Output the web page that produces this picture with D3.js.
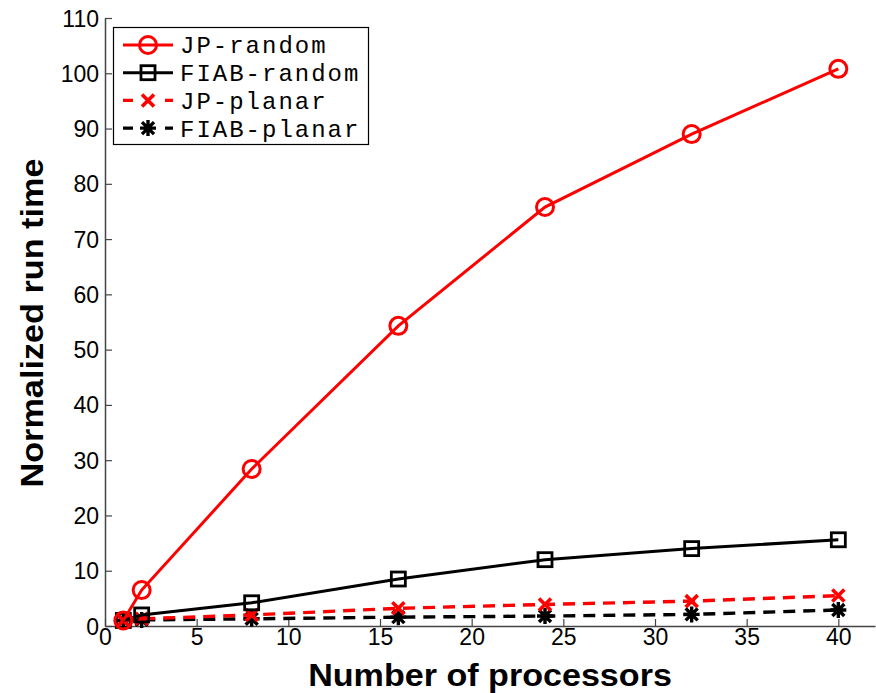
<!DOCTYPE html>
<html>
<head>
<meta charset="utf-8">
<script src="https://cdn.jsdelivr.net/npm/d3@7"></script>
<style>
  body { margin: 0; background: #fff; }
  svg { display: block; }
</style>
</head>
<body>
<svg id="chart" width="876" height="693"></svg>
<script>
'use strict';

var processors = [1, 2, 8, 16, 24, 32, 40];
var jpRandom = [1, 6.5, 28.4, 54.3, 75.8, 89.0, 100.8];
var fiabRandom = [1, 2.0, 4.2, 8.5, 12.0, 14.0, 15.6];
var jpPlanar = [1, 1.3, 2.0, 3.2, 3.9, 4.5, 5.5];
var fiabPlanar = [1, 1.1, 1.3, 1.6, 1.8, 2.1, 2.9];
var xTicks = [0, 5, 10, 15, 20, 25, 30, 35, 40];
var yTicks = [0, 10, 20, 30, 40, 50, 60, 70, 80, 90, 100, 110];

var series = [
  { name: 'JP-random', values: jpRandom, color: '#ff0000', dash: null, marker: 'circle' },
  { name: 'FIAB-random', values: fiabRandom, color: '#000000', dash: null, marker: 'square' },
  { name: 'JP-planar', values: jpPlanar, color: '#ff0000', dash: '12,8', marker: 'cross' },
  { name: 'FIAB-planar', values: fiabPlanar, color: '#000000', dash: '12,8', marker: 'star' }
];

var svg = d3.select('#chart');
var plotLeft = 105, plotRight = 875, plotTop = 18, plotBottom = 626;
var sans = 'Liberation Sans, Arial, Helvetica, sans-serif';

var x = d3.scaleLinear().domain([0, 42]).range([plotLeft, plotRight]);
var y = d3.scaleLinear().domain([0, 110]).range([plotBottom, plotTop]);

// axes, ticks pointing inward
var xAxis = svg.append('g').attr('transform', 'translate(0,' + plotBottom + ')')
  .call(d3.axisBottom(x).tickValues(xTicks).tickSizeInner(-7).tickSizeOuter(0));
var yAxis = svg.append('g').attr('transform', 'translate(' + plotLeft + ',0)')
  .call(d3.axisLeft(y).tickValues(yTicks).tickSizeInner(-7).tickSizeOuter(0));

[xAxis, yAxis].forEach(function (a) {
  a.select('.domain').attr('stroke', '#444').attr('stroke-width', 1.5);
  a.selectAll('.tick line').attr('stroke', '#444').attr('stroke-width', 1.2);
  a.selectAll('.tick text').attr('fill', '#000')
    .style('font-family', sans).style('font-size', '23px');
});
xAxis.selectAll('.tick text').attr('y', 3).attr('dy', '0.71em');
yAxis.selectAll('.tick text').attr('x', -6).attr('dy', '0.35em');

// axis titles (reference font renders wider, so stretch a bit)
svg.append('text')
  .attr('transform', 'translate(' + 490 + ',686) scale(1.1,1)')
  .attr('text-anchor', 'middle')
  .style('font-family', sans)
  .style('font-size', '31px').style('font-weight', 'bold')
  .text('Number of processors');

svg.append('text')
  .attr('transform', 'translate(43,323) rotate(-90) scale(1.07,1)')
  .attr('text-anchor', 'middle')
  .style('font-family', sans)
  .style('font-size', '32px').style('font-weight', 'bold')
  .text('Normalized run time');

function drawMarker(g, type, color) {
  if (type === 'circle') {
    g.append('circle').attr('r', 8.5).attr('fill', 'none').attr('stroke', color).attr('stroke-width', 3);
  } else if (type === 'square') {
    g.append('rect').attr('x', -7).attr('y', -7).attr('width', 14).attr('height', 14)
      .attr('fill', 'none').attr('stroke', color).attr('stroke-width', 2.8);
  } else if (type === 'cross') {
    g.append('path').attr('d', 'M-6,-6L6,6M-6,6L6,-6')
      .attr('stroke', color).attr('stroke-width', 3.6).attr('fill', 'none');
  } else if (type === 'star') {
    g.append('path').attr('d', 'M0,-8L0,8M-8,0L8,0M-6,-6L6,6M-6,6L6,-6')
      .attr('stroke', color).attr('stroke-width', 3.4).attr('fill', 'none');
  }
}

var line = d3.line()
  .x(function (d) { return x(d[0]); })
  .y(function (d) { return y(d[1]); });

// draw in reverse so JP-random is on top
series.slice().reverse().forEach(function (s) {
  var pts = processors.map(function (p, i) { return [p, s.values[i]]; });
  svg.append('path').datum(pts)
    .attr('d', line)
    .attr('fill', 'none')
    .attr('stroke', s.color)
    .attr('stroke-width', s.dash ? 3.4 : 3)
    .attr('stroke-dasharray', s.dash);
  svg.append('g').selectAll('g').data(pts).enter().append('g')
    .attr('transform', function (d) { return 'translate(' + x(d[0]) + ',' + y(d[1]) + ')'; })
    .each(function () { drawMarker(d3.select(this), s.marker, s.color); });
});

// legend
var legend = svg.append('g');
legend.append('rect')
  .attr('x', 113.5).attr('y', 27.5).attr('width', 255).attr('height', 117)
  .attr('fill', '#fff').attr('stroke', '#000').attr('stroke-width', 1.2);

series.forEach(function (s, i) {
  var ly = 45 + i * 27.7;
  legend.append('line')
    .attr('x1', 123).attr('x2', 173).attr('y1', ly).attr('y2', ly)
    .attr('stroke', s.color)
    .attr('stroke-width', s.dash ? 3.4 : 3)
    .attr('stroke-dasharray', s.dash ? '10,32' : null);
  drawMarker(legend.append('g').attr('transform', 'translate(148,' + ly + ')'), s.marker, s.color);
  legend.append('text')
    .attr('x', 180).attr('y', ly).attr('dy', '0.35em')
    .style('font-family', 'Liberation Mono, Courier New, monospace')
    .style('font-size', '24px')
    .style('letter-spacing', '2px')
    .text(s.name);
});
</script>
</body>
</html>
